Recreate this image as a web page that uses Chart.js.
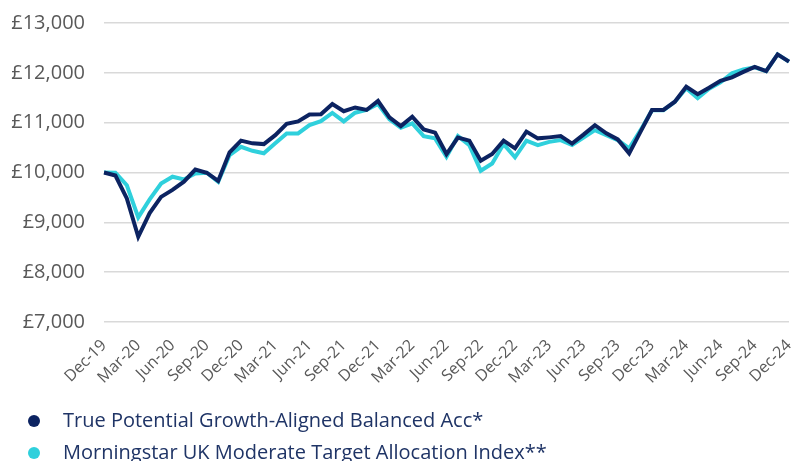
<!DOCTYPE html>
<html>
<head>
<meta charset="utf-8">
<script src="https://cdn.jsdelivr.net/npm/chart.js@4/dist/chart.umd.min.js"></script>
<style>
  html, body { margin: 0; padding: 0; background: #fff; }
  #wrap { width: 791px; height: 461px; position: relative; }
</style>
</head>
<body>
<div id="wrap"><canvas id="myChart"></canvas></div>
<script>
const months = [
  "Dec-19", "Jan-20", "Feb-20", "Mar-20", "Apr-20", "May-20", "Jun-20", "Jul-20", "Aug-20", "Sep-20", "Oct-20", "Nov-20",
  "Dec-20", "Jan-21", "Feb-21", "Mar-21", "Apr-21", "May-21", "Jun-21", "Jul-21", "Aug-21", "Sep-21", "Oct-21", "Nov-21",
  "Dec-21", "Jan-22", "Feb-22", "Mar-22", "Apr-22", "May-22", "Jun-22", "Jul-22", "Aug-22", "Sep-22", "Oct-22", "Nov-22",
  "Dec-22", "Jan-23", "Feb-23", "Mar-23", "Apr-23", "May-23", "Jun-23", "Jul-23", "Aug-23", "Sep-23", "Oct-23", "Nov-23",
  "Dec-23", "Jan-24", "Feb-24", "Mar-24", "Apr-24", "May-24", "Jun-24", "Jul-24", "Aug-24", "Sep-24", "Oct-24", "Nov-24",
  "Dec-24"
];

const seriesNames = [
  "True Potential Growth-Aligned Balanced Acc*",
  "Morningstar UK Moderate Target Allocation Index**"
];

// value of £10,000 invested, month by month
const trueValues = [
  10000, 9940, 9480, 8710, 9185, 9510, 9650, 9815, 10060, 9995, 9830, 10405,
  10640, 10585, 10570, 10750, 10975, 11025, 11165, 11170, 11375, 11230, 11305, 11255,
  11435, 11105, 10930, 11120, 10865, 10800, 10370, 10700, 10640, 10235, 10370, 10640,
  10485, 10820, 10685, 10705, 10730, 10580, 10760, 10950, 10785, 10665, 10385, 10820,
  11255, 11255, 11420, 11720, 11570, 11700, 11840, 11910, 12020, 12120, 12035, 12370,
  12225
];
const indexValues = [
  10000, 9995, 9745, 9100, 9460, 9780, 9915, 9860, 9980, 9995, 9815, 10350,
  10515, 10435, 10385, 10585, 10785, 10785, 10950, 11030, 11195, 11025, 11200, 11255,
  11375, 11065, 10900, 10985, 10730, 10685, 10315, 10730, 10550, 10035, 10180, 10570,
  10305, 10640, 10550, 10615, 10650, 10550, 10700, 10850, 10750, 10650, 10485, 10850,
  11250, 11250, 11420, 11690, 11490, 11680, 11810, 11990, 12070, 12110, 12035, 12370,
  12225
];

const yTicks = [7000, 8000, 9000, 10000, 11000, 12000, 13000];

const navy = "#0c2361";
const cyan = "#2fd0dc";

// legend dot drawn in a wider box so the text sits further right
function makeDot(color) {
  const c = document.createElement("canvas");
  c.width = 30;
  c.height = 14;
  const g = c.getContext("2d");
  g.fillStyle = color;
  g.beginPath();
  g.arc(11, 7, 6, 0, Math.PI * 2);
  g.fill();
  return c;
}
const dots = [makeDot(navy), makeDot(cyan)];

const data = {
  labels: months,
  datasets: [
    {
      label: seriesNames[0],
      data: trueValues,
      borderColor: navy,
      backgroundColor: navy,
      borderWidth: 4,
      pointRadius: 0,
      tension: 0,
    },
    {
      label: seriesNames[1],
      data: indexValues,
      borderColor: cyan,
      backgroundColor: cyan,
      borderWidth: 4,
      pointRadius: 0,
      tension: 0,
    },
  ],
};

const config = {
  type: "line",
  data: data,
  options: {
    responsive: true,
    maintainAspectRatio: false,
    animation: false,
    layout: { padding: { top: 23, left: 11, right: 2, bottom: -12 } },
    plugins: {
      tooltip: { enabled: false },
      legend: {
        position: "bottom",
        align: "start",
        labels: {
          usePointStyle: true,
          pointStyleWidth: 30,
          padding: 12,
          color: "#1f3466",
          font: { family: "'Open Sans'", size: 20 },
          generateLabels: function (chart) {
            const items = Chart.defaults.plugins.legend.labels.generateLabels(chart);
            items.forEach(function (it, i) { it.pointStyle = dots[i]; });
            return items;
          },
        },
      },
    },
    scales: {
      x: {
        offset: false,
        grid: { display: false, drawTicks: false },
        border: { display: false },
        afterFit: function (scale) {
          scale.height = 77;
          scale.paddingRight = 0;
          scale.paddingLeft = 0;
          scale.paddingTop = 0;
        },
        ticks: {
          autoSkip: false,
          minRotation: 45,
          maxRotation: 45,
          padding: 14,
          color: "#595959",
          font: { family: "'Open Sans'", size: 16 },
          callback: function (val, i) { return i % 3 === 0 ? months[i] : ""; },
        },
      },
      y: {
        min: yTicks[0],
        max: yTicks[yTicks.length - 1],
        afterFit: function (scale) {
          scale.width = 93;
          scale.paddingTop = 0;
          scale.paddingBottom = 0;
        },
        afterBuildTicks: function (scale) { scale.ticks = yTicks.map(function (v) { return { value: v }; }); },
        grid: { color: "#d9d9d9", lineWidth: 1.5, drawTicks: false },
        border: { display: false },
        ticks: {
          padding: 19,
          color: "#595959",
          font: { family: "'Open Sans'", size: 20 },
          callback: function (v) { return "£" + v.toLocaleString("en-GB"); },
        },
      },
    },
  },
};

const chart = new Chart(document.getElementById("myChart"), config);
</script>
</body>
</html>
